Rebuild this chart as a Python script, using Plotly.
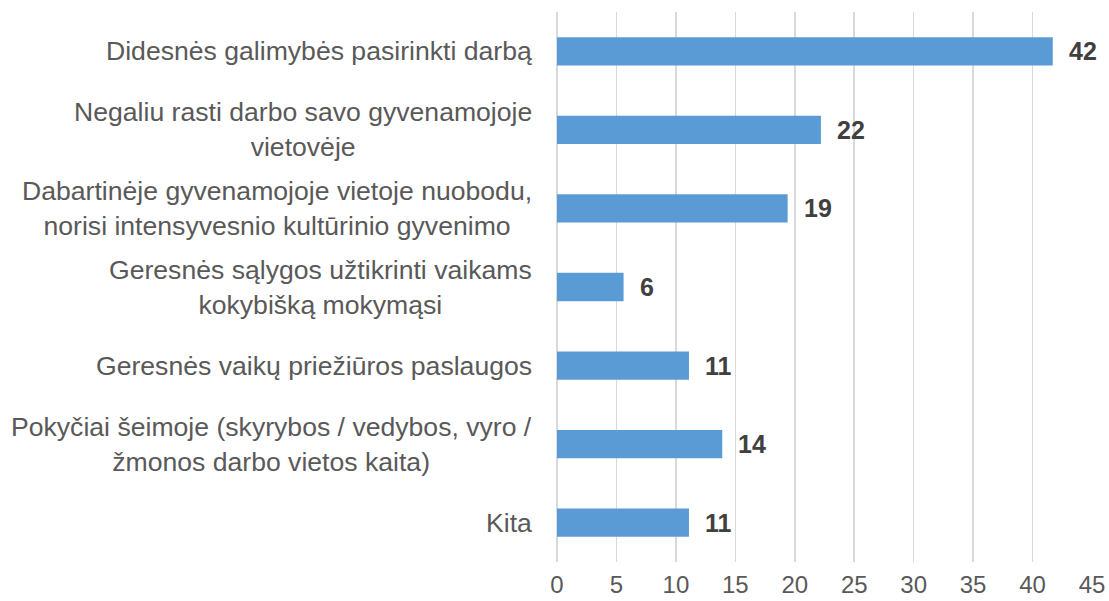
import plotly.graph_objects as go

categories = [
    "Didesnės galimybės pasirinkti darbą",
    "Negaliu rasti darbo savo gyvenamojoje<br>vietovėje",
    "Dabartinėje gyvenamojoje vietoje nuobodu,<br>norisi intensyvesnio kultūrinio gyvenimo",
    "Geresnės sąlygos užtikrinti vaikams<br>kokybišką mokymąsi",
    "Geresnės vaikų priežiūros paslaugos",
    "Pokyčiai šeimoje (skyrybos / vedybos, vyro /<br>žmonos darbo vietos kaita)",
    "Kita",
]
values = [41.7, 22.2, 19.4, 5.6, 11.1, 13.9, 11.1]
x_ticks = [0, 5, 10, 15, 20, 25, 30, 35, 40, 45]

font_family = "Liberation Sans, Arial, sans-serif"

fig = go.Figure()
fig.add_trace(go.Bar(
    y=categories,
    x=values,
    orientation="h",
    marker=dict(color="#5B9BD5", line=dict(width=0)),
    hoverinfo="skip",
))

annotations = []
for c, v in zip(categories, values):
    annotations.append(dict(
        x=0, xref="paper", y=c, yref="y", xanchor="right", yanchor="middle",
        xshift=-23, text=c, showarrow=False, align="center",
        font=dict(family=font_family, size=26.6, color="#595959"),
    ))
    annotations.append(dict(
        x=v, xref="x", y=c, yref="y", xanchor="left", yanchor="middle",
        xshift=14, text=f"<b>{round(v)}</b>", showarrow=False,
        font=dict(family=font_family, size=25, color="#404040"),
    ))

fig.update_layout(
    width=1109, height=601,
    margin=dict(l=557, r=17, t=12, b=39, autoexpand=False),
    plot_bgcolor="white", paper_bgcolor="white",
    bargap=0.64,
    showlegend=False,
    annotations=annotations,
    xaxis=dict(
        range=[0, 45], tickvals=x_ticks, showgrid=True, gridcolor="#d9d9d9",
        gridwidth=1.5, zeroline=True, zerolinecolor="#d9d9d9", zerolinewidth=1.5,
        showline=False, ticks="", ticklabelstandoff=6, automargin=False,
        tickfont=dict(family=font_family, size=24, color="#595959"),
    ),
    yaxis=dict(
        autorange="reversed", showticklabels=False, showgrid=False,
        zeroline=False, showline=False, ticks="", automargin=False,
    ),
)

fig.write_html(
    "out.html",
    config={"displayModeBar": False, "staticPlot": True},
    post_script="document.body.style.margin='0';document.body.style.overflow='hidden';",
)
